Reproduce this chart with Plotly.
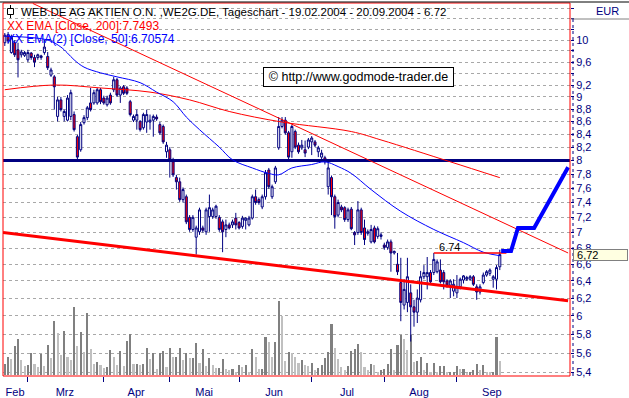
import numpy as np
import plotly.graph_objects as go

# ---------------- data ----------------
opens = [9.95,10.10,9.77,9.95,9.82,9.73,9.72,9.64,9.76,9.68,
         9.68,9.68,9.77,9.70,9.37,9.34,8.68,8.95,8.68,8.62,
         8.68,8.71,8.36,8.16,8.58,8.66,8.90,8.90,8.90,9.12,
         8.98,8.87,9.03,9.12,9.29,9.03,9.17,9.15,8.92,8.62,
         8.62,8.60,8.50,8.59,8.59,8.62,8.67,8.55,8.52,8.13,
         8.16,7.98,7.75,7.69,7.44,7.48,7.20,7.04,6.94,7.01,
         7.06,7.01,7.21,7.21,7.21,7.20,7.14,7.04,7.10,7.10,
         7.19,7.13,7.08,7.16,7.10,7.19,7.48,7.44,7.34,7.48,
         7.86,7.48,7.69,8.19,8.52,8.62,8.42,8.13,8.44,8.23,
         8.19,8.16,8.20,8.28,8.28,8.13,8.05,8.04,7.62,7.75,
         7.48,7.23,7.34,7.33,7.17,7.31,7.00,7.00,7.30,7.06,
         6.99,6.88,7.06,6.95,6.95,6.84,6.81,6.88,6.74,6.60,
         6.38,6.12,6.15,6.26,6.10,6.04,6.18,6.45,6.45,6.50,
         6.50,6.51,6.53,6.50,6.40,6.35,6.28,6.26,6.33,6.41,
         6.42,6.42,6.45,6.33,6.27,6.38,6.47,6.49,6.42,6.42,
         6.57]
highs = [10.13,10.15,10.10,10.00,9.95,9.82,9.80,9.82,9.78,9.73,
         9.75,9.73,10.00,9.78,9.50,9.37,9.00,9.00,8.79,9.03,
         9.12,8.76,8.39,8.59,8.70,8.85,9.15,9.12,9.15,9.15,
         9.02,9.02,9.07,9.34,9.32,9.18,9.20,9.18,8.95,8.71,
         8.79,8.62,8.74,8.79,8.71,8.71,8.71,8.59,8.55,8.28,
         8.20,8.04,7.79,7.75,7.61,7.51,7.23,7.23,7.09,7.33,
         7.09,7.33,7.51,7.33,7.37,7.23,7.17,7.17,7.13,7.17,
         7.26,7.15,7.22,7.20,7.22,7.51,7.58,7.47,7.51,7.86,
         7.89,7.65,7.92,8.67,8.67,8.67,8.45,8.55,8.47,8.27,
         8.31,8.30,8.34,8.37,8.31,8.22,8.16,8.07,7.98,7.78,
         7.51,7.44,7.37,7.35,7.33,7.34,7.02,7.42,7.33,7.17,
         7.04,7.10,7.09,7.08,7.00,6.87,6.91,6.91,6.77,6.74,
         6.68,6.42,6.68,6.36,6.18,6.30,6.52,6.59,6.69,6.53,
         6.74,6.66,6.66,6.53,6.42,6.42,6.42,6.47,6.44,6.47,
         6.46,6.47,6.47,6.36,6.36,6.50,6.53,6.55,6.47,6.59,
         6.78]
lows = [9.89,9.93,9.75,9.69,9.33,9.68,9.69,9.60,9.64,9.51,
        9.64,9.64,9.73,9.46,9.34,8.79,8.60,8.76,8.60,8.60,
        8.62,8.44,8.01,8.13,8.55,8.62,8.76,8.87,8.87,8.88,
        8.87,8.84,8.87,9.08,9.00,8.90,9.03,9.03,8.68,8.59,
        8.47,8.44,8.47,8.42,8.47,8.36,8.61,8.39,8.25,8.04,
        7.75,7.76,7.58,7.41,7.40,7.11,7.01,7.01,6.72,6.97,
        7.00,6.97,7.01,7.18,7.18,7.01,6.75,6.94,7.04,7.06,
        7.04,7.04,7.05,7.04,7.08,7.17,7.37,7.37,7.31,7.44,
        7.59,7.45,7.66,8.16,8.49,8.39,8.02,8.04,8.17,8.10,
        8.16,8.05,8.17,8.08,8.20,8.05,7.98,7.94,7.51,7.23,
        7.05,7.20,7.27,7.14,7.14,7.03,6.84,6.97,6.97,6.84,
        6.96,6.86,6.86,6.92,6.91,6.78,6.78,6.51,6.72,6.47,
        5.94,6.07,6.04,5.72,5.88,5.92,6.15,6.42,6.30,6.36,
        6.47,6.49,6.37,6.30,6.32,6.20,6.22,6.20,6.30,6.37,
        6.40,6.40,6.34,6.18,6.24,6.36,6.45,6.46,6.32,6.30,
        6.53]
closes = [10.09,9.98,10.05,9.73,9.64,9.78,9.77,9.77,9.68,9.60,
          9.73,9.71,9.87,9.50,9.46,9.17,8.95,8.79,8.76,8.98,
          9.07,8.47,8.05,8.55,8.66,8.82,8.79,9.07,9.12,8.92,
          8.90,8.98,8.90,9.29,9.03,9.15,9.06,9.06,8.71,8.68,
          8.71,8.47,8.71,8.71,8.62,8.68,8.64,8.42,8.28,8.23,
          8.01,7.79,7.69,7.44,7.58,7.14,7.04,7.20,7.06,7.30,
          7.03,7.30,7.33,7.30,7.35,7.04,7.01,7.10,7.06,7.14,
          7.10,7.06,7.19,7.19,7.19,7.48,7.40,7.40,7.48,7.82,
          7.62,7.62,7.89,8.52,8.62,8.42,8.05,8.52,8.20,8.13,
          8.23,8.11,8.31,8.34,8.23,8.19,8.11,7.98,7.89,7.48,
          7.21,7.40,7.30,7.17,7.30,7.05,6.97,7.30,7.00,6.91,
          7.01,7.04,6.88,7.05,6.97,6.81,6.88,6.74,6.76,6.51,
          6.15,6.30,6.45,6.10,6.04,6.20,6.45,6.50,6.50,6.39,
          6.66,6.63,6.39,6.39,6.35,6.40,6.36,6.33,6.42,6.46,
          6.44,6.45,6.36,6.27,6.33,6.47,6.51,6.53,6.45,6.56,
          6.72]
volumes = [31,52,46,85,106,43,25,28,64,31,
           22,61,25,88,49,160,124,58,130,52,
           43,202,85,127,67,184,76,31,37,28,
           19,22,73,52,28,70,25,100,121,31,
           31,28,31,79,46,64,16,64,70,22,
           79,52,52,79,43,64,49,49,94,34,
           76,25,49,28,19,19,46,16,13,16,
           7,28,22,28,7,76,52,16,16,112,
           97,52,97,220,175,40,67,64,52,34,
           43,30,27,36,13,21,30,51,67,153,
           81,48,23,13,27,70,78,93,69,24,
           13,33,30,9,15,17,32,76,15,90,
           120,108,75,120,37,40,53,15,35,9,
           35,9,27,27,7,7,9,25,18,18,
           5,7,15,31,13,30,9,7,7,114,
           40]  # thousand shares
volumes = [v * 1000 for v in volumes]

month_labels = ["Feb", "Mrz", "Apr", "Mai", "Jun", "Jul", "Aug", "Sep"]
month_label_pos = [3.1, 18.2, 39.8, 60.4, 81.6, 103.7, 125.5, 147.6]
month_start_idx = [7, 30, 50, 71, 93, 115, 137]

ema50_idx = [0, 13, 17, 19, 21, 24, 29, 34, 41, 46, 51, 55, 59, 65, 69, 75,
             80, 83, 87, 93, 97, 101, 105, 111, 120, 130, 139, 145, 150]
ema50_val = [10.07, 10.00, 9.87, 9.76, 9.64, 9.51, 9.41, 9.34, 9.24, 9.08,
             8.92, 8.67, 8.47, 8.20, 8.01, 7.89, 7.81, 7.79, 7.89, 7.94,
             7.98, 7.91, 7.81, 7.58, 7.28, 7.04, 6.87, 6.75, 6.70574]
ema200_idx = [0, 15, 29, 44, 56, 68, 84, 105, 114, 135, 150]
ema200_val = [9.12, 9.20, 9.15, 9.08, 8.95, 8.76, 8.59, 8.44, 8.31, 7.98, 7.7493]

trend_idx = [8.5, 170.7]
trend_val = [10.70, 6.74]
support_idx = [-0.55, 170.7]
support_val = [7.00, 6.17]
level_idx = [-0.55, 171.3]
level_val = [8.0, 8.0]
resist_idx = [130, 152]
resist_val = [6.74, 6.74]
proj_idx = [150.4, 153.4, 155.5, 160.4, 170.7]
proj_val = [6.765, 6.765, 7.06, 7.06, 7.90]

price_ticks = [5.4, 5.6, 5.8, 6.0, 6.2, 6.4, 6.6, 6.8, 7.0, 7.2, 7.4, 7.6,
               7.8, 8.0, 8.2, 8.4, 8.6, 8.8, 9.0, 9.2, 9.4, 9.6, 9.8, 10.0,
               10.2, 10.4, 10.6]
price_tick_text = ["5,4", "5,6", "5,8", "6", "6,2", "6,4", "6,6", "6,8", "7",
                   "7,2", "7,4", "7,6", "7,8", "8", "8,2", "8,4", "8,6", "8,8",
                   "9", "9,2", "", "9,6", "", "10", "", "", ""]
last_close = 6.72

# ---------------- figure ----------------
FONT = "Liberation Sans, Arial, sans-serif"
NAVY = "#000080"
idx = list(range(len(closes)))
vol_colors = ["#c0c0c0" if (i > 0 and volumes[i] < volumes[i - 1]) else "#808080"
              for i in idx]

fig = go.Figure()
fig.add_trace(go.Bar(x=idx, y=volumes, marker_color=vol_colors, marker_line_width=0,
                     width=0.62, yaxis="y", hoverinfo="skip"))
fig.add_trace(go.Candlestick(
    x=idx, open=opens, high=highs, low=lows, close=closes, yaxis="y2",
    increasing=dict(line=dict(color=NAVY, width=1), fillcolor="#ffffff"),
    decreasing=dict(line=dict(color=NAVY, width=1), fillcolor="#ff0000"),
    whiskerwidth=0))

def line(x, y, color, width, shape="linear"):
    fig.add_trace(go.Scatter(x=x, y=y, mode="lines", yaxis="y2",
                             line=dict(color=color, width=width, shape=shape),
                             hoverinfo="skip"))

line(level_idx, level_val, NAVY, 3)
line(support_idx, support_val, "#ff0000", 3)
line(trend_idx, trend_val, "#ff0000", 1)
line(ema200_idx, ema200_val, "#ff0000", 1, "spline")
line(ema50_idx, ema50_val, "#0000ff", 1, "spline")
line(resist_idx, resist_val, "#ff0000", 1.5)
line(proj_idx, proj_val, "#0000ff", 4)

W, H = 629, 398
L, R, T, B = 3, 59, 3, 22
pw, ph = W - L - R, H - T - B
def px(xp):
    return (xp - L) / pw
def py(yp):
    return (H - B - yp) / ph

annotations = [
    dict(text="WEB.DE AG AKTIEN O.N. ,WE2G.DE, Tageschart - 19.02.2004 - 20.09.2004 - 6.72",
         x=px(19), y=py(12), xanchor="left", yanchor="middle",
         font=dict(color="#000000", size=11.5, family=FONT)),
    dict(text="XX EMA [Close, 200]:7.7493", x=px(5), y=py(26), xanchor="left",
         yanchor="middle", font=dict(color="#ff0000", size=12, family=FONT)),
    dict(text="XX EMA(2) [Close, 50]:6.70574", x=px(5), y=py(39), xanchor="left",
         yanchor="middle", font=dict(color="#0000ff", size=12, family=FONT)),
    dict(text="© http://www.godmode-trader.de", x=px(358.5), y=py(77),
         xanchor="center", yanchor="middle", showarrow=False,
         bordercolor="#000000", borderwidth=1, borderpad=2, bgcolor="#ffffff",
         width=185, height=14, font=dict(color="#000000", size=12.5, family=FONT)),
    dict(text="EUR", x=px(607), y=py(11), xanchor="center", yanchor="middle",
         font=dict(color=NAVY, size=11, family=FONT)),
    dict(text="&nbsp;" + f"{last_close:.2f}".replace(".", ","), x=px(573),
         xanchor="left", y=np.log10(last_close), yref="y2", yanchor="middle",
         xref="paper", bgcolor="#ffffe1", bordercolor="#808080", borderwidth=1,
         borderpad=0, width=53, height=10, align="left",
         font=dict(color="#000000", size=11, family=FONT)),
    dict(text="6.74", x=131.0, xref="x", y=np.log10(resist_val[0]), yref="y2",
         xanchor="left", yanchor="bottom", yshift=-2,
         font=dict(color="#000000", size=11, family=FONT)),
]
for a in annotations:
    a.setdefault("xref", "paper")
    a.setdefault("yref", "paper")
    a["showarrow"] = False

shapes = [
    dict(type="rect", xref="paper", yref="paper", x0=0, x1=1, y0=0, y1=1,
         line=dict(color="#ff0000", width=1), layer="above"),
    dict(type="line", xref="paper", yref="paper", x0=px(0), x1=px(629), y0=py(2),
         y1=py(2), line=dict(color="#000000", width=1)),
    dict(type="line", xref="paper", yref="paper", x0=px(571), x1=px(629), y0=py(19),
         y1=py(19), line=dict(color="#808080", width=1)),
    dict(type="line", xref="paper", yref="paper", x0=px(573), x1=px(573), y0=0,
         y1=py(19), line=dict(color=NAVY, width=1, dash="dot")),
    # small candlestick icon in the title line
    dict(type="line", xref="paper", yref="paper", x0=px(10.5), x1=px(10.5),
         y0=py(5), y1=py(18), line=dict(color="#000000", width=1)),
    dict(type="rect", xref="paper", yref="paper", x0=px(7.5), x1=px(13.5),
         y0=py(8.5), y1=py(14.5), line=dict(color="#000000", width=1),
         fillcolor="#ffffff"),
]

fig.update_layout(
    width=W, height=H, margin=dict(l=L, r=R, t=T, b=B, pad=0, autoexpand=False),
    paper_bgcolor="#ffffff", plot_bgcolor="#ffffff",
    showlegend=False, boxgap=0.12, bargap=0,
    font=dict(family=FONT, size=11, color=NAVY),
    xaxis=dict(range=[-0.545, 171.27], showgrid=False, zeroline=False,
               showline=False, rangeslider=dict(visible=False), automargin=False,
               tickmode="array", tickvals=month_label_pos, ticktext=month_labels,
               ticks="", ticklabelstandoff=8,
               tickfont=dict(color=NAVY, size=11, family=FONT),
               minor=dict(tickmode="array", tickvals=month_start_idx,
                          ticks="outside", ticklen=5, tickcolor=NAVY,
                          tickwidth=1, showgrid=False)),
    yaxis=dict(range=[-4500, 1114500], visible=False, showgrid=False,
               fixedrange=True, automargin=False),
    yaxis2=dict(overlaying="y", side="right", type="log", automargin=False,
                range=[0.72969, 1.02977], tickmode="array",
                tickvals=price_ticks, ticktext=price_tick_text,
                showgrid=True, gridcolor="#a8a8a8", griddash="dot", gridwidth=1,
                ticks="outside", ticklen=3, tickcolor=NAVY, tickwidth=1,
                zeroline=False, showline=False,
                tickfont=dict(color=NAVY, size=11, family=FONT)),
    annotations=annotations, shapes=shapes,
)

fig.write_html("out.html", config={"displayModeBar": False},
               post_script="document.body.style.margin='0px';"
                           "document.body.style.overflow='hidden';")
